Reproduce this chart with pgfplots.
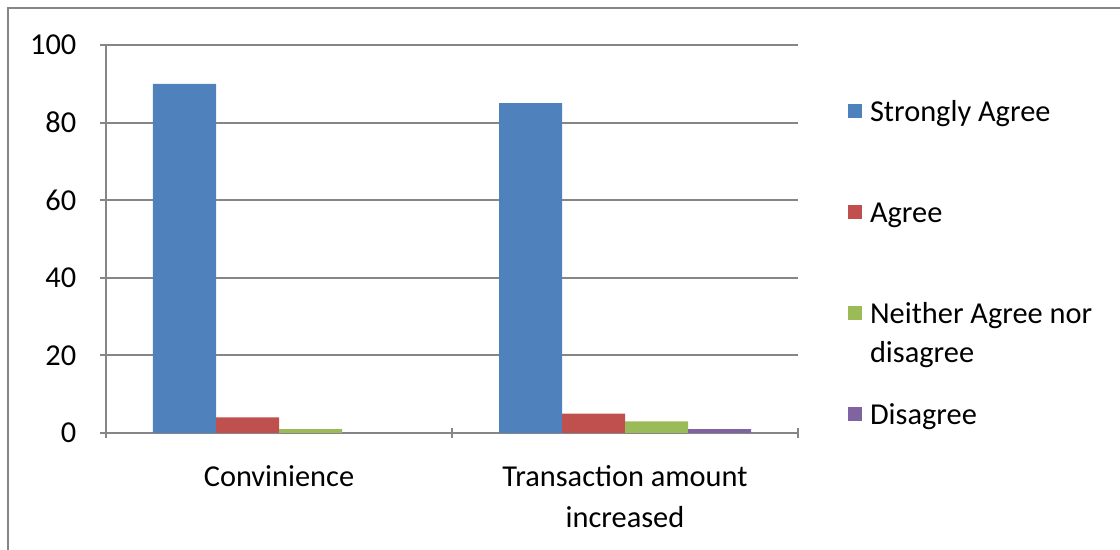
\documentclass[border=0pt]{standalone}
\usepackage{pgfplots}
\pgfplotsset{compat=1.18}
\usepackage{fontspec}
\setmainfont{Carlito}

\definecolor{sAgree}{HTML}{4F81BD}
\definecolor{agree}{HTML}{C0504D}
\definecolor{neither}{HTML}{9BBB59}
\definecolor{disagree}{HTML}{8064A2}
\definecolor{linegray}{HTML}{868686}

\newcommand{\lbl}{\fontsize{30.5}{41}\selectfont}
\newcommand{\leg}{\fontsize{30.5}{39}\selectfont}

\begin{document}
\begin{tikzpicture}
\useasboundingbox (0bp,0bp) rectangle (1120bp,550bp);
\begin{scope}
\clip (0bp,0bp) rectangle (1120bp,550bp);
\draw[linegray, line width=2bp] (8bp,-10bp) -- (8bp,542bp) -- (1130bp,542bp);
\end{scope}

\begin{axis}[
  at={(106bp,117bp)}, anchor=south west,
  scale only axis, width=692bp, height=388bp,
  ybar=0pt, bar width=63bp,
  xmin=-0.5, xmax=1.5,
  ymin=0, ymax=100,
  ytick={0,20,40,60,80,100},
  xtick={0,1},
  xticklabels={Convinience, {Transaction amount\\increased}},
  extra x ticks={-0.5,0.5,1.5},
  extra x tick labels={},
  extra x tick style={xtick style={draw=linegray, line width=2bp}, major tick length=10bp},
  xtick style={draw=none},
  ytick style={draw=linegray, line width=2bp},
  major tick length=11bp,
  tick align=outside,
  axis x line=bottom, axis y line=left,
  axis line style={draw=linegray, line width=2bp, -},
  ymajorgrids, grid style={draw=linegray, line width=2bp},
  tick label style={font=\lbl},
  /pgf/number format/assume math mode=true,
  yticklabel style={inner sep=0pt, xshift=-24bp},
  xticklabel style={align=center, inner sep=0pt, anchor=north, yshift=-27bp},
  legend style={draw=none, fill=none, at={(1.0723,0.865)}, anchor=north west,
    font=\leg, inner sep=0pt, outer sep=0pt, row sep=69bp,
    nodes={inner sep=0pt, text height=24bp, text depth=8bp},
    column sep=8bp, legend cell align=left},
  legend image code/.code={\fill[#1,draw=none] (0bp,-5bp) rectangle (14bp,9bp);},
]
\addplot[fill=sAgree, draw=none] coordinates {(0,90) (1,85)};
\addplot[fill=agree, draw=none] coordinates {(0,4) (1,5)};
\addplot[fill=neither, draw=none] coordinates {(0,1) (1,3)};
\addplot[fill=disagree, draw=none] coordinates {(0,0) (1,1)};
\legend{Strongly Agree, Agree, {\begin{tabular}[t]{@{}l@{}}Neither Agree nor\\disagree\end{tabular}}, Disagree}
\end{axis}
\end{tikzpicture}
\end{document}
